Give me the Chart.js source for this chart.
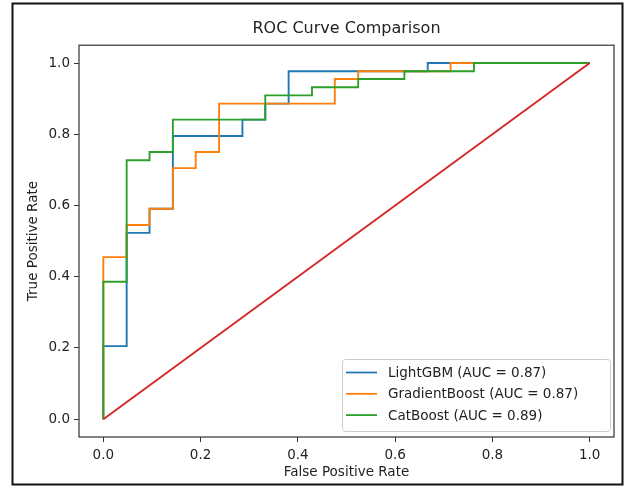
<!DOCTYPE html>
<html>
<head>
<meta charset="utf-8">
<title>ROC Curve Comparison</title>
<script src="https://cdn.jsdelivr.net/npm/chart.js@4.4.1/dist/chart.umd.min.js"></script>
<style>
  html, body { margin: 0; padding: 0; background: #fff; }
  #wrap { width: 634px; height: 488px; }
</style>
</head>
<body>
<div id="wrap"><canvas id="rocChart" width="634" height="488"></canvas></div>
<script>
// ROC points (fpr / tpr)
const lgbmFpr = [0, 0, 0.048, 0.048, 0.095, 0.095, 0.143, 0.143, 0.286, 0.286, 0.333, 0.333, 0.381, 0.381, 0.667, 0.667, 1];
const lgbmTpr = [0, 0.205, 0.205, 0.523, 0.523, 0.591, 0.591, 0.795, 0.795, 0.841, 0.841, 0.886, 0.886, 0.977, 0.977, 1, 1];

const gbFpr = [0, 0, 0.048, 0.048, 0.095, 0.095, 0.143, 0.143, 0.190, 0.190, 0.238, 0.238, 0.476, 0.476, 0.524, 0.524, 0.714, 0.714, 1];
const gbTpr = [0, 0.455, 0.455, 0.545, 0.545, 0.591, 0.591, 0.705, 0.705, 0.750, 0.750, 0.886, 0.886, 0.955, 0.955, 0.977, 0.977, 1, 1];

const catFpr = [0, 0, 0.048, 0.048, 0.095, 0.095, 0.143, 0.143, 0.333, 0.333, 0.429, 0.429, 0.524, 0.524, 0.619, 0.619, 0.762, 0.762, 1];
const catTpr = [0, 0.386, 0.386, 0.727, 0.727, 0.750, 0.750, 0.841, 0.841, 0.909, 0.909, 0.932, 0.932, 0.955, 0.955, 0.977, 0.977, 1, 1];

const chanceFpr = [0, 1];
const chanceTpr = [0, 1];

const modelLabels = ['LightGBM (AUC = 0.87)', 'GradientBoost (AUC = 0.87)', 'CatBoost (AUC = 0.89)'];
const xTicks = [0, 0.2, 0.4, 0.6, 0.8, 1.0];
const yTicks = [0, 0.2, 0.4, 0.6, 0.8, 1.0];

const toPoints = (xs, ys) => xs.map((x, i) => ({ x: x, y: ys[i] }));

Chart.defaults.font.family = '"DejaVu Sans", sans-serif';
Chart.defaults.color = '#222';

// legend box sitting inside the lower right of the plot
const insideLegend = {
    id: 'insideLegend',
    afterDatasetsDraw(chart) {
        const { ctx, chartArea } = chart;
        const items = chart.data.datasets.filter(d => d.label);
        const w = 268, h = 72;
        const x = chartArea.right - 4 - w;
        const y = chartArea.bottom - 6 - h;
        ctx.save();
        ctx.fillStyle = 'rgba(255,255,255,0.85)';
        ctx.strokeStyle = '#cccccc';
        ctx.lineWidth = 1;
        ctx.beginPath();
        ctx.roundRect(x + 0.5, y + 0.5, w, h, 3);
        ctx.fill();
        ctx.stroke();
        ctx.font = '13.5px "DejaVu Sans"';
        ctx.textBaseline = 'middle';
        items.forEach((d, i) => {
            const cy = y + 13.5 + i * 21.3;
            ctx.strokeStyle = d.borderColor;
            ctx.lineWidth = 1.8;
            ctx.beginPath();
            ctx.moveTo(x + 4, cy);
            ctx.lineTo(x + 35, cy);
            ctx.stroke();
            ctx.fillStyle = '#222';
            ctx.fillText(d.label, x + 46, cy + 1);
        });
        ctx.restore();
    }
};

// axes frame + figure border
const frame = {
    id: 'frame',
    afterDraw(chart) {
        const { ctx, chartArea } = chart;
        ctx.save();
        ctx.strokeStyle = '#333';
        ctx.lineWidth = 1.2;
        ctx.strokeRect(chartArea.left, chartArea.top, chartArea.right - chartArea.left, chartArea.bottom - chartArea.top);
        ctx.strokeStyle = '#111';
        ctx.lineWidth = 2;
        ctx.strokeRect(12.5, 3.5, 610, 481);
        ctx.restore();
    }
};

const tickFmt = v => Number(v).toFixed(1);

const ctx = document.getElementById('rocChart').getContext('2d');
new Chart(ctx, {
    type: 'line',
    data: {
        datasets: [
            { label: modelLabels[0], data: toPoints(lgbmFpr, lgbmTpr), borderColor: '#1f77b4', order: 4 },
            { label: modelLabels[1], data: toPoints(gbFpr, gbTpr), borderColor: '#ff7f0e', order: 3 },
            { label: modelLabels[2], data: toPoints(catFpr, catTpr), borderColor: '#2ca02c', order: 2 },
            { label: '', data: toPoints(chanceFpr, chanceTpr), borderColor: '#d62728', order: 1 }
        ]
    },
    options: {
        responsive: false,
        animation: false,
        devicePixelRatio: 1,
        datasets: { line: { borderWidth: 1.9, pointRadius: 0, tension: 0, fill: false } },
        layout: { padding: { left: 21, right: 20, top: 0, bottom: 3 } },
        plugins: {
            legend: { display: false },
            tooltip: { enabled: false },
            title: {
                display: true,
                text: 'ROC Curve Comparison',
                fullSize: false,
                color: '#222',
                font: { size: 16, weight: 'normal' },
                padding: { top: 19, bottom: 7 }
            }
        },
        scales: {
            x: {
                type: 'linear',
                min: -0.05,
                max: 1.05,
                afterBuildTicks: s => { s.ticks = xTicks.map(v => ({ value: v })); },
                afterFit: s => { s.height = 48; },
                ticks: { callback: tickFmt, font: { size: 13.5 }, padding: 5, maxRotation: 0 },
                grid: { drawOnChartArea: false, tickLength: 5, color: '#333' },
                border: { display: false },
                title: { display: true, text: 'False Positive Rate', font: { size: 13.5 } }
            },
            y: {
                type: 'linear',
                min: -0.05,
                max: 1.05,
                afterBuildTicks: s => { s.ticks = yTicks.map(v => ({ value: v })); },
                afterFit: s => { s.width = 58; },
                ticks: { callback: tickFmt, font: { size: 13.5 }, padding: 4 },
                grid: { drawOnChartArea: false, tickLength: 5, color: '#333' },
                border: { display: false },
                title: { display: true, text: 'True Positive Rate', font: { size: 13.5 } }
            }
        }
    },
    plugins: [insideLegend, frame]
});
</script>
</body>
</html>
